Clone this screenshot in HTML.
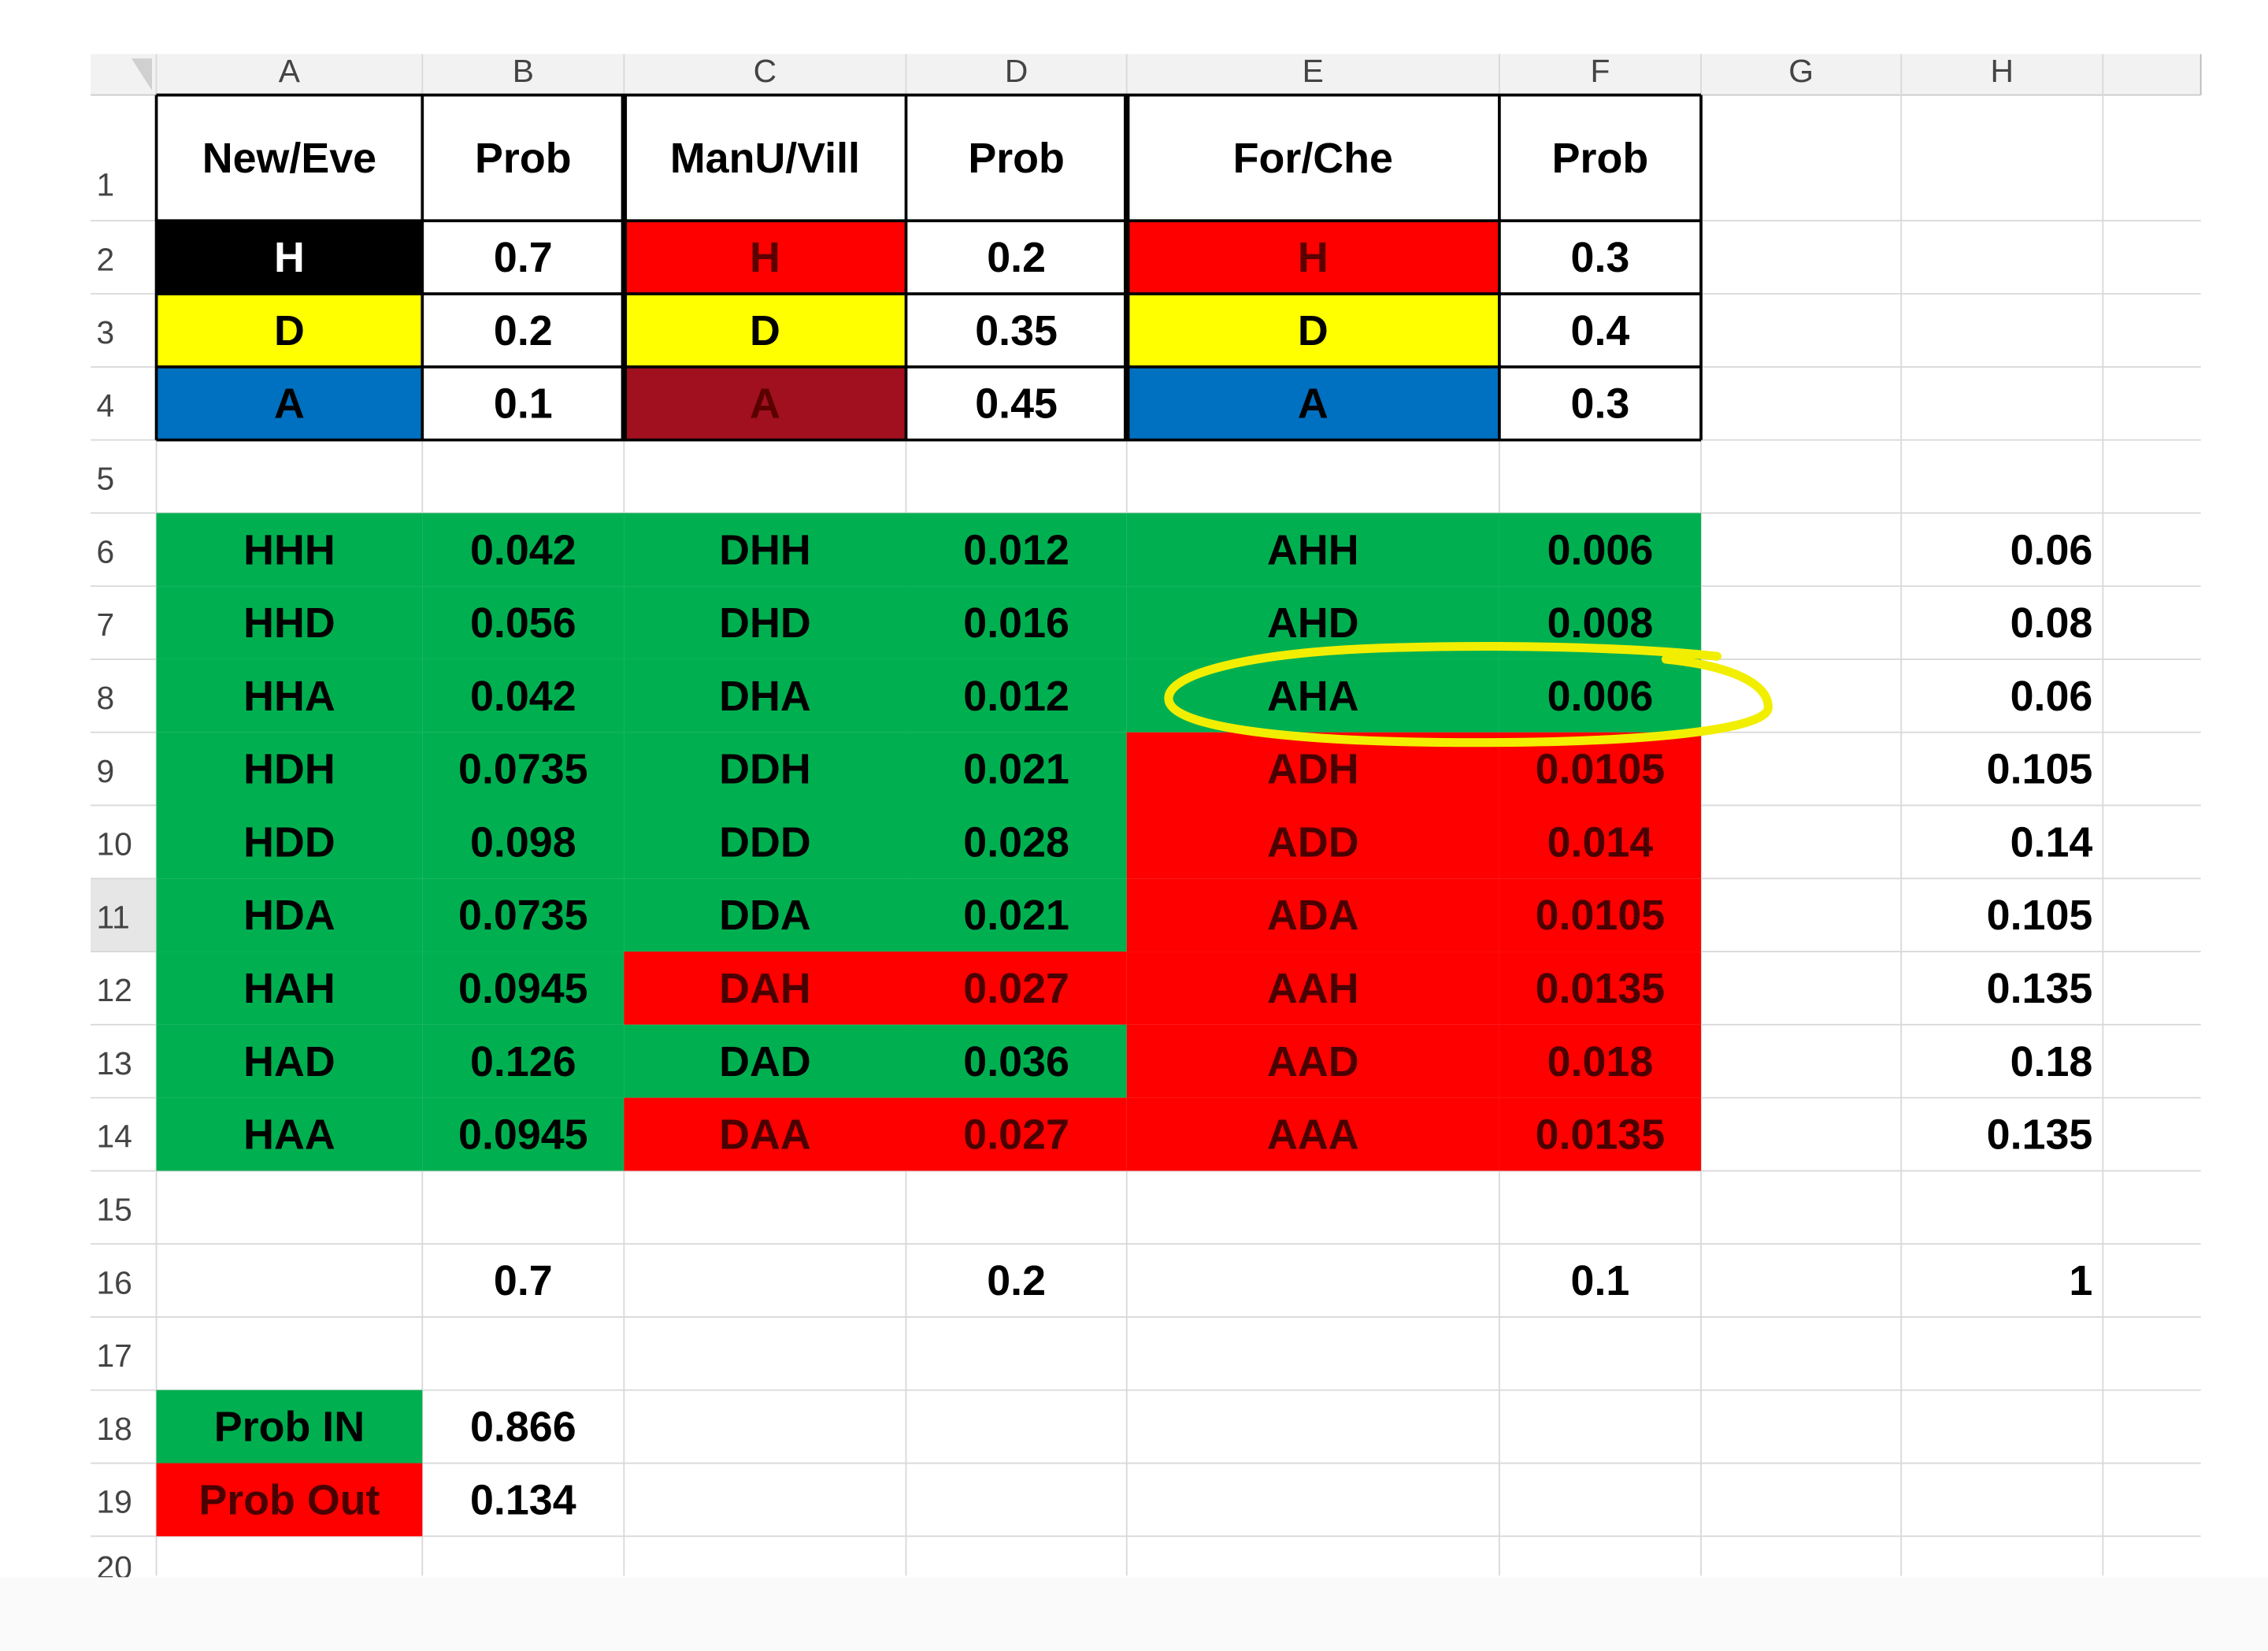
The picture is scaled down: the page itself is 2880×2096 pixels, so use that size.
<!DOCTYPE html>
<html><head><meta charset="utf-8">
<style>
html,body{margin:0;padding:0;background:#fff;}
svg{display:block;}
text{font-family:"Liberation Sans",Arial,sans-serif;}
</style></head>
<body>
<svg id="sheet" width="2880" height="2096" viewBox="0 0 1552 1129.5" xmlns="http://www.w3.org/2000/svg"></svg>
<script>
const colLetters = ["A","B","C","D","E","F","G","H"];
const colEdges = [107,289,427,620,771,1026,1164,1301,1439,1506];
const headerRow1 = ["New/Eve","Prob","ManU/Vill","Prob","For/Che","Prob"];
const resultLabels = [["H","D","A"],["H","D","A"],["H","D","A"]];
const matchProbs = [["0.7","0.2","0.1"],["0.2","0.35","0.45"],["0.3","0.4","0.3"]];
const matchColors = [["#000000","#ffff00","#0070c0"],["#ff0000","#ffff00","#a0101e"],["#ff0000","#ffff00","#0070c0"]];
const comboA = ["HHH","HHD","HHA","HDH","HDD","HDA","HAH","HAD","HAA"];
const probB = ["0.042","0.056","0.042","0.0735","0.098","0.0735","0.0945","0.126","0.0945"];
const comboC = ["DHH","DHD","DHA","DDH","DDD","DDA","DAH","DAD","DAA"];
const probD = ["0.012","0.016","0.012","0.021","0.028","0.021","0.027","0.036","0.027"];
const comboE = ["AHH","AHD","AHA","ADH","ADD","ADA","AAH","AAD","AAA"];
const probF = ["0.006","0.008","0.006","0.0105","0.014","0.0105","0.0135","0.018","0.0135"];
const inA = [1,1,1,1,1,1,1,1,1];
const inC = [1,1,1,1,1,1,0,1,0];
const inE = [1,1,1,0,0,0,0,0,0];
const colH = ["0.06","0.08","0.06","0.105","0.14","0.105","0.135","0.18","0.135"];
const totals = ["0.7","0.2","0.1","1"];
const summaryLabels = ["Prob IN","Prob Out"];
const summaryValues = ["0.866","0.134"];

const NS="http://www.w3.org/2000/svg";
const svg=document.getElementById('sheet');
function el(tag,attrs,parent){const e=document.createElementNS(NS,tag);for(const k in attrs)e.setAttribute(k,attrs[k]);(parent||svg).appendChild(e);return e;}
function rowTop(n){return n===1?65:151+(n-2)*50;}
function rowBot(n){return n===1?151:rowTop(n)+50;}
function cx(c){return (colEdges[c]+colEdges[c+1])/2;}
const GREEN="#00b050",RED="#ff0000";

// header bar
let hb=el('rect',{x:62,y:37,width:1444,height:28,fill:"#f2f2f2"});


let rb=el('rect',{x:62,y:65,width:45,height:1013,fill:"#ffffff"});


el('rect',{x:62,y:601,width:45,height:50,fill:"#e6e6e6"});
el('polygon',{points:"90,40 104,40 104,62",fill:"#d0d0d0"});

// gridlines
for(let n=1;n<=20;n++){el('line',{x1:62,x2:1506,y1:rowBot(n),y2:rowBot(n),stroke:"#d9d9d9","stroke-width":1});}
el('line',{x1:62,x2:1506,y1:65,y2:65,stroke:"#c8c8c8","stroke-width":1});
for(let i=0;i<colEdges.length-1;i++){el('line',{x1:colEdges[i],x2:colEdges[i],y1:37,y2:1078,stroke:"#d9d9d9","stroke-width":1});}
el('line',{x1:1506,x2:1506,y1:37,y2:65,stroke:"#bbb","stroke-width":1});

// column letters
colLetters.forEach((L,i)=>{
  const t=el('text',{x:cx(i),y:56,"text-anchor":"middle","font-size":22,fill:"#444"});t.textContent=L;
  
  
});
// row numbers
for(let n=1;n<=20;n++){
  const y=n===1?134:rowTop(n)+34;
  const t=el('text',{x:66,y:Math.min(y,1080),"font-size":22,fill:"#444"});t.textContent=n;
  
  
}

function cell(c,n,fill,txt,color,anchor,name){
  const x=colEdges[c],w=colEdges[c+1]-colEdges[c],y=rowTop(n),h=rowBot(n)-y;
  if(fill){const r=el('rect',{x:x,y:y,width:w,height:h,fill:fill});
    
    }
  if(txt!==undefined&&txt!==""){
    let tx=anchor==="end"?colEdges[c+1]-7:cx(c);
    const t=el('text',{x:tx,y:y+h/2+10,"text-anchor":anchor||"middle","font-size":29,"font-weight":"bold",fill:color||"#000"});
    t.textContent=txt;
    
    
  }
}

// row 1 headers
headerRow1.forEach((h,i)=>cell(i,1,"#fff",h,"#000","middle","header-"+h.toLowerCase().replace('/','-')+"-"+i));
// rows 2-4
for(let g=0;g<3;g++)for(let r=0;r<3;r++){
  const bg=matchColors[g][r];
  const tc=bg==="#000000"?"#fff":(bg==="#ff0000"||bg==="#a0101e"?"#5a0000":"#000");
  cell(g*2,r+2,bg,resultLabels[g][r],tc,"middle","result-"+g+"-"+resultLabels[g][r]);
  cell(g*2+1,r+2,"#fff",matchProbs[g][r],"#000","middle","prob-"+g+"-"+resultLabels[g][r]);
}
// borders for top table
for(let n=1;n<=4;n++){el('line',{x1:107,x2:1164,y1:rowBot(n),y2:rowBot(n),stroke:"#000","stroke-width":2});}
el('line',{x1:107,x2:1164,y1:65,y2:65,stroke:"#000","stroke-width":2});
[107,289,427,620,771,1026,1164].forEach(x=>{
  el('line',{x1:x,x2:x,y1:65,y2:301,stroke:"#000","stroke-width":(x===427||x===771)?4:2});
});

// combos rows 6-14
for(let i=0;i<9;i++){
  const n=i+6;
  const fa=inA[i]?GREEN:RED, fc=inC[i]?GREEN:RED, fe=inE[i]?GREEN:RED;
  const ta=inA[i]?"#000":"#4a0000", tcc=inC[i]?"#000":"#4a0000", te=inE[i]?"#000":"#4a0000";
  cell(0,n,fa,comboA[i],ta,"middle","combo-"+comboA[i].toLowerCase());
  cell(1,n,fa,probB[i],ta,"middle","prob-"+comboA[i].toLowerCase());
  cell(2,n,fc,comboC[i],tcc,"middle","combo-"+comboC[i].toLowerCase());
  cell(3,n,fc,probD[i],tcc,"middle","prob-"+comboC[i].toLowerCase());
  cell(4,n,fe,comboE[i],te,"middle","combo-"+comboE[i].toLowerCase());
  cell(5,n,fe,probF[i],te,"middle","prob-"+comboE[i].toLowerCase());
  cell(7,n,null,colH[i],"#000","end","total-row-"+n);
}
// totals row 16
cell(1,16,null,totals[0],"#000","middle","total-new-eve");
cell(3,16,null,totals[1],"#000","middle","total-manu-vill");
cell(5,16,null,totals[2],"#000","middle","total-for-che");
cell(7,16,null,totals[3],"#000","end","grand-total");
// summary
cell(0,18,GREEN,summaryLabels[0],"#000","middle","prob-in-label");
cell(1,18,null,summaryValues[0],"#000","middle","prob-in-value");
cell(0,19,RED,summaryLabels[1],"#4a0000","middle","prob-out-label");
cell(1,19,null,summaryValues[1],"#000","middle","prob-out-value");

// highlight ellipse
const hl=el('path',{d:"M1175,449 C1120,443 1020,440 930,444 C850,448 795,462 800,480 C806,500 900,508 1010,508 C1120,508 1210,500 1210,484 C1210,466 1180,455 1140,451",fill:"none",stroke:"#f2ee00","stroke-width":6,"stroke-linecap":"round"});



// bottom fade
const bf=el('rect',{x:0,y:1079,width:1552,height:51,fill:"#fafafa"});


</script>
</body></html>
